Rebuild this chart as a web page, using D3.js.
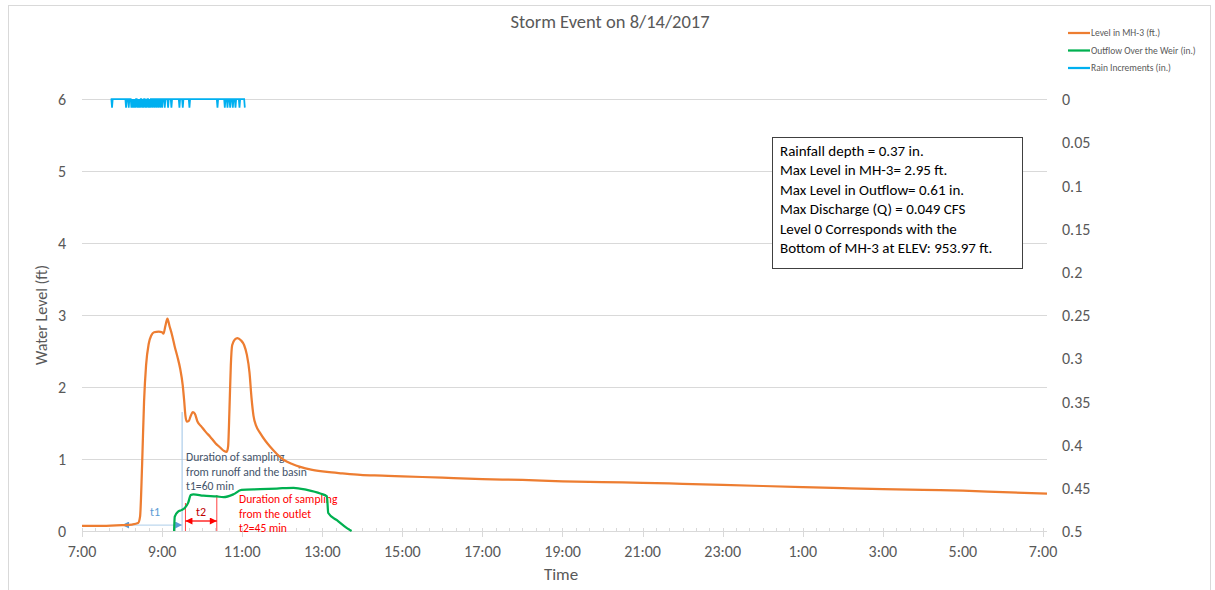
<!DOCTYPE html>
<html>
<head>
<meta charset="utf-8">
<script src="https://cdn.jsdelivr.net/npm/d3@7"></script>
<style>
  body { margin: 0; background: #fff; }
  svg { display: block; }
  text { font-family: Carlito, Lato, "Open Sans", sans-serif; }
</style>
</head>
<body>
<svg id="chart" width="1215" height="590"></svg>
<script>
// ---- Level in MH-3 (ft.) ----
const levelTimes = [
  "2017-08-14 07:00","2017-08-14 07:30","2017-08-14 08:00","2017-08-14 08:15","2017-08-14 08:24",
  "2017-08-14 08:27","2017-08-14 08:30","2017-08-14 08:33","2017-08-14 08:36","2017-08-14 08:40",
  "2017-08-14 08:44","2017-08-14 08:48","2017-08-14 08:55","2017-08-14 09:00","2017-08-14 09:02",
  "2017-08-14 09:05","2017-08-14 09:08","2017-08-14 09:11","2017-08-14 09:15","2017-08-14 09:19",
  "2017-08-14 09:23","2017-08-14 09:27","2017-08-14 09:31","2017-08-14 09:33","2017-08-14 09:35",
  "2017-08-14 09:37","2017-08-14 09:40","2017-08-14 09:43","2017-08-14 09:46","2017-08-14 09:49",
  "2017-08-14 09:53","2017-08-14 09:59","2017-08-14 10:05","2017-08-14 10:12","2017-08-14 10:20",
  "2017-08-14 10:27","2017-08-14 10:33","2017-08-14 10:37","2017-08-14 10:39","2017-08-14 10:41",
  "2017-08-14 10:43","2017-08-14 10:45","2017-08-14 10:49","2017-08-14 10:53","2017-08-14 10:58",
  "2017-08-14 11:03","2017-08-14 11:07","2017-08-14 11:11","2017-08-14 11:14","2017-08-14 11:17",
  "2017-08-14 11:21","2017-08-14 11:27","2017-08-14 11:35","2017-08-14 11:42","2017-08-14 11:52",
  "2017-08-14 12:02","2017-08-14 12:15","2017-08-14 12:27","2017-08-14 12:45","2017-08-14 13:07",
  "2017-08-14 13:30","2017-08-14 13:57","2017-08-14 14:30","2017-08-14 15:00","2017-08-14 16:00",
  "2017-08-14 17:00","2017-08-14 18:00","2017-08-14 19:00","2017-08-14 20:00","2017-08-14 21:00",
  "2017-08-14 22:00","2017-08-14 23:00","2017-08-15 00:00","2017-08-15 01:00","2017-08-15 02:00",
  "2017-08-15 03:00","2017-08-15 04:00","2017-08-15 05:00","2017-08-15 06:00","2017-08-15 07:06"
];
const levelValues = [
  0.07, 0.07, 0.08, 0.09, 0.11,
  0.20, 0.90, 1.80, 2.30, 2.60,
  2.72, 2.76, 2.77, 2.76, 2.74,
  2.85, 2.95, 2.85, 2.72, 2.56,
  2.42, 2.26, 2.02, 1.82, 1.60,
  1.52, 1.53, 1.60, 1.65, 1.63,
  1.52, 1.45, 1.38, 1.31, 1.22,
  1.16, 1.11, 1.10, 1.18, 1.70,
  2.30, 2.58, 2.66, 2.68, 2.65,
  2.58, 2.45, 2.20, 1.85, 1.60,
  1.46, 1.36, 1.25, 1.17, 1.07,
  0.99, 0.93, 0.89, 0.85, 0.82,
  0.80, 0.78, 0.77, 0.76, 0.74,
  0.72, 0.71, 0.69, 0.68, 0.67,
  0.655, 0.64, 0.625, 0.61, 0.595,
  0.58, 0.57, 0.56, 0.54, 0.52
];

// ---- Outflow Over the Weir (in.) ----
const outflowTimes = [
  "2017-08-14 09:18","2017-08-14 09:19","2017-08-14 09:24","2017-08-14 09:29","2017-08-14 09:34",
  "2017-08-14 09:39","2017-08-14 09:43","2017-08-14 09:47","2017-08-14 10:02","2017-08-14 10:22",
  "2017-08-14 10:32","2017-08-14 10:47","2017-08-14 10:59","2017-08-14 11:27","2017-08-14 11:52",
  "2017-08-14 12:17","2017-08-14 12:37","2017-08-14 12:57","2017-08-14 13:07","2017-08-14 13:09",
  "2017-08-14 13:22","2017-08-14 13:37","2017-08-14 13:44"
];
const outflowValues = [
  0.00, 0.20, 0.27, 0.29, 0.32,
  0.39, 0.50, 0.51, 0.49, 0.48,
  0.47, 0.51, 0.57, 0.58, 0.59,
  0.60, 0.57, 0.52, 0.48, 0.25,
  0.15, 0.04, 0.00
];

// ---- Rain Increments (in.): one 0.01 in. tip per listed minute ----
const rainStart = "2017-08-14 07:43";
const rainEnd = "2017-08-14 11:04";
const rainTipTimes = [
  "07:45","08:06","08:10",
  "08:14","08:16","08:18","08:20","08:23","08:25","08:27","08:30","08:32","08:35","08:37",
  "08:40","08:42","08:45","08:48","08:51","08:54","08:57","09:00","09:04","09:09","09:14",
  "09:26","09:31","09:41","10:23",
  "10:34","10:38","10:42","10:46","10:50","10:56","11:04"
];
const rainTipDepth = 0.01;

// ---- Axis ticks ----
const leftTicks = [0, 1, 2, 3, 4, 5, 6];
const rightTicks = [0, 0.05, 0.1, 0.15, 0.2, 0.25, 0.3, 0.35, 0.4, 0.45, 0.5];
const rightTickLabels = ["0", "0.05", "0.1", "0.15", "0.2", "0.25", "0.3", "0.35", "0.4", "0.45", "0.5"];
const xDomain = ["2017-08-14 07:00", "2017-08-15 07:06"];

const infoLines = [
  "Rainfall depth = 0.37 in.",
  "Max Level in MH-3= 2.95 ft.",
  "Max Level in Outflow= 0.61 in.",
  "Max Discharge (Q) = 0.049 CFS",
  "Level 0 Corresponds with the",
  "Bottom of MH-3 at ELEV: 953.97 ft."
];

const seriesNames = ["Level in MH-3 (ft.)", "Outflow Over the Weir (in.)", "Rain Increments (in.)"];
const seriesColors = ["#ed7d31", "#00b050", "#00b0f0"];

// ---------------------------------------------------------------
const parse = d3.timeParse("%Y-%m-%d %H:%M");
const svg = d3.select("#chart");
const plot = { left: 82, right: 1047, top: 99, bottom: 531 };

const x = d3.scaleTime().domain(xDomain.map(parse)).range([plot.left, plot.right]);
const yL = d3.scaleLinear().domain([0, 6]).range([plot.bottom, plot.top]);
const yR = d3.scaleLinear().domain([0, 0.5]).range([plot.top, plot.bottom]);

const axisColor = "#595959";
const gridColor = "#d9d9d9";

// chart frame
svg.append("rect").attr("x", 8.5).attr("y", 5.5).attr("width", 1202).attr("height", 620)
  .attr("fill", "#fff").attr("stroke", gridColor);

// title
svg.append("text").attr("x", 610).attr("y", 28).attr("text-anchor", "middle")
  .attr("font-size", 18.5).attr("fill", axisColor).text("Storm Event on 8/14/2017");

// horizontal gridlines (primary axis)
svg.append("g").selectAll("line").data(leftTicks.slice(1)).join("line")
  .attr("x1", plot.left).attr("x2", plot.right)
  .attr("y1", d => Math.round(yL(d)) + 0.5).attr("y2", d => Math.round(yL(d)) + 0.5)
  .attr("stroke", gridColor).attr("stroke-width", 1);

// left axis labels
const gLeft = svg.append("g").attr("transform", `translate(${plot.left},0)`)
  .call(d3.axisLeft(yL).tickValues(leftTicks).tickSize(0).tickPadding(16).tickFormat(d3.format("d")));
gLeft.select(".domain").remove();
gLeft.selectAll("text").attr("fill", axisColor).attr("font-size", 16).attr("dy", "0.35em");

// right axis labels
const gRight = svg.append("g").attr("transform", `translate(${plot.right},0)`)
  .call(d3.axisRight(yR).tickValues(rightTicks).tickSize(0).tickPadding(15)
    .tickFormat((d, i) => rightTickLabels[i]));
gRight.select(".domain").remove();
gRight.selectAll("text").attr("fill", axisColor).attr("font-size", 16).attr("dy", "0.35em");

// bottom axis: baseline, major ticks every 2 h from the start, minor every 20 min
const t0 = x.domain()[0], tEnd = d3.timeMinute.offset(x.domain()[1], 1);
const majorTicks = d3.timeHour.range(t0, tEnd, 2);
const minorTicks = d3.timeMinute.range(t0, tEnd, 20);
const gBottom = svg.append("g");
gBottom.append("line").attr("x1", plot.left).attr("x2", plot.right)
  .attr("y1", plot.bottom + 0.5).attr("y2", plot.bottom + 0.5).attr("stroke", gridColor);
gBottom.selectAll("line.minor").data(minorTicks).join("line").attr("class", "minor")
  .attr("x1", d => Math.round(x(d)) + 0.5).attr("x2", d => Math.round(x(d)) + 0.5)
  .attr("y1", plot.bottom - 3).attr("y2", plot.bottom + 1).attr("stroke", gridColor);
gBottom.selectAll("line.major").data(majorTicks).join("line").attr("class", "major")
  .attr("x1", d => Math.round(x(d)) + 0.5).attr("x2", d => Math.round(x(d)) + 0.5)
  .attr("y1", plot.bottom).attr("y2", plot.bottom + 6).attr("stroke", gridColor);
gBottom.selectAll("text").data(majorTicks).join("text")
  .attr("x", d => x(d)).attr("y", plot.bottom + 26).attr("text-anchor", "middle")
  .attr("font-size", 16).attr("fill", axisColor).text(d3.timeFormat("%-H:%M"));

// axis titles
svg.append("text").attr("transform", `translate(47,${(plot.top + plot.bottom) / 2}) rotate(-90)`)
  .attr("text-anchor", "middle").attr("font-size", 16).attr("fill", axisColor).text("Water Level (ft)");
svg.append("text").attr("x", 561).attr("y", 580).attr("text-anchor", "middle")
  .attr("font-size", 17).attr("fill", axisColor).text("Time");

// ---- series ----
const levelData = levelTimes.map((t, i) => ({ t: parse(t), v: levelValues[i] }));
const outflowData = outflowTimes.map((t, i) => ({ t: parse(t), v: outflowValues[i] }));

const day = rainStart.slice(0, 10);
const tipSet = new Set(rainTipTimes.map(s => +parse(day + " " + s)));
const rainData = d3.timeMinute.range(parse(rainStart), d3.timeMinute.offset(parse(rainEnd), 1))
  .map(t => ({ t, v: tipSet.has(+t) ? rainTipDepth : 0 }));

const lineL = d3.line().x(d => x(d.t)).y(d => yL(d.v)).curve(d3.curveMonotoneX);
const lineR = d3.line().x(d => x(d.t)).y(d => yR(d.v));

svg.append("path").datum(rainData).attr("d", lineR).attr("fill", "none")
  .attr("stroke", seriesColors[2]).attr("stroke-width", 1.75).attr("stroke-linejoin", "miter");

// ---- annotations (sampling durations) ----
const tA = parse("2017-08-14 08:00"), tB = parse("2017-08-14 09:30");
const tC = parse("2017-08-14 09:35"), tD = parse("2017-08-14 10:22");
const ann = svg.append("g");
const defs = svg.append("defs");
function arrowMarker(id, color, w, h) {
  defs.append("marker").attr("id", id).attr("viewBox", "0 0 10 10").attr("refX", 10).attr("refY", 5)
    .attr("markerWidth", w).attr("markerHeight", h).attr("orient", "auto-start-reverse")
    .attr("markerUnits", "userSpaceOnUse")
    .append("path").attr("d", "M0,0 L10,5 L0,10 Z").attr("fill", color);
}
arrowMarker("arrBlue", "#5b9bd5", 8, 7);
arrowMarker("arrRed", "#ff0000", 8, 7);

// t1
ann.append("line").attr("x1", x(tB)).attr("x2", x(tB)).attr("y1", 412).attr("y2", plot.bottom)
  .attr("stroke", "#9dc3e6").attr("stroke-width", 1);
ann.append("line").attr("x1", x(tA)).attr("x2", x(tB)).attr("y1", 525).attr("y2", 525)
  .attr("stroke", "#bdd7ee").attr("stroke-width", 1.25)
  .attr("marker-start", "url(#arrBlue)").attr("marker-end", "url(#arrBlue)");
ann.append("text").attr("x", (x(tA) + x(tB)) / 2 + 3).attr("y", 516).attr("text-anchor", "middle")
  .attr("font-size", 12).attr("fill", "#5b9bd5").text("t1");
const t1Text = ["Duration of sampling", "from runoff and the basin", "t1=60 min"];
ann.append("g").selectAll("text").data(t1Text).join("text")
  .attr("x", x(tB) + 4).attr("y", (d, i) => 461 + i * 14.5)
  .attr("font-size", 11.6).attr("fill", "#44546a").text(d => d);

// t2
ann.selectAll("line.t2v").data([{ t: tC, y: 503 }, { t: tD, y: 495 }]).join("line").attr("class", "t2v")
  .attr("x1", d => x(d.t)).attr("x2", d => x(d.t)).attr("y1", d => d.y).attr("y2", plot.bottom)
  .attr("stroke", "#ff0000").attr("stroke-width", 0.75);
ann.append("line").attr("x1", x(tC)).attr("x2", x(tD)).attr("y1", 521).attr("y2", 521)
  .attr("stroke", "#ff0000").attr("stroke-width", 1.25)
  .attr("marker-start", "url(#arrRed)").attr("marker-end", "url(#arrRed)");
ann.append("text").attr("x", (x(tC) + x(tD)) / 2).attr("y", 516).attr("text-anchor", "middle")
  .attr("font-size", 12).attr("fill", "#c00000").text("t2");
const t2Text = ["Duration of sampling", "from the outlet", "t2=45 min"];
ann.append("g").selectAll("text").data(t2Text).join("text")
  .attr("x", 239).attr("y", (d, i) => 503 + i * 14.5)
  .attr("font-size", 11.6).attr("fill", "#ff0000").text(d => d);

svg.append("path").datum(outflowData).attr("d", lineL).attr("fill", "none")
  .attr("stroke", seriesColors[1]).attr("stroke-width", 2.25).attr("stroke-linejoin", "round");
svg.append("path").datum(levelData).attr("d", lineL).attr("fill", "none")
  .attr("stroke", seriesColors[0]).attr("stroke-width", 2.25).attr("stroke-linejoin", "round");

// ---- info box ----
const box = svg.append("g").attr("transform", "translate(772,137)");
box.append("rect").attr("x", 0.5).attr("y", 0.5).attr("width", 250).attr("height", 131)
  .attr("fill", "#fff").attr("stroke", "#404040").attr("stroke-width", 1);
box.selectAll("text").data(infoLines).join("text")
  .attr("x", 8).attr("y", (d, i) => 19 + i * 19.4)
  .attr("font-size", 15).attr("fill", "#000").text(d => d);

// ---- legend ----
const leg = svg.append("g").attr("transform", "translate(1068,33)");
seriesNames.forEach((name, i) => {
  const g = leg.append("g").attr("transform", `translate(0,${i * 17.5})`);
  g.append("line").attr("x1", 0).attr("x2", 22).attr("y1", 0).attr("y2", 0)
    .attr("stroke", seriesColors[i]).attr("stroke-width", 2.25);
  g.append("text").attr("x", 23).attr("y", 3).attr("font-size", 9.5).attr("fill", axisColor).text(name);
});
</script>
</body>
</html>
